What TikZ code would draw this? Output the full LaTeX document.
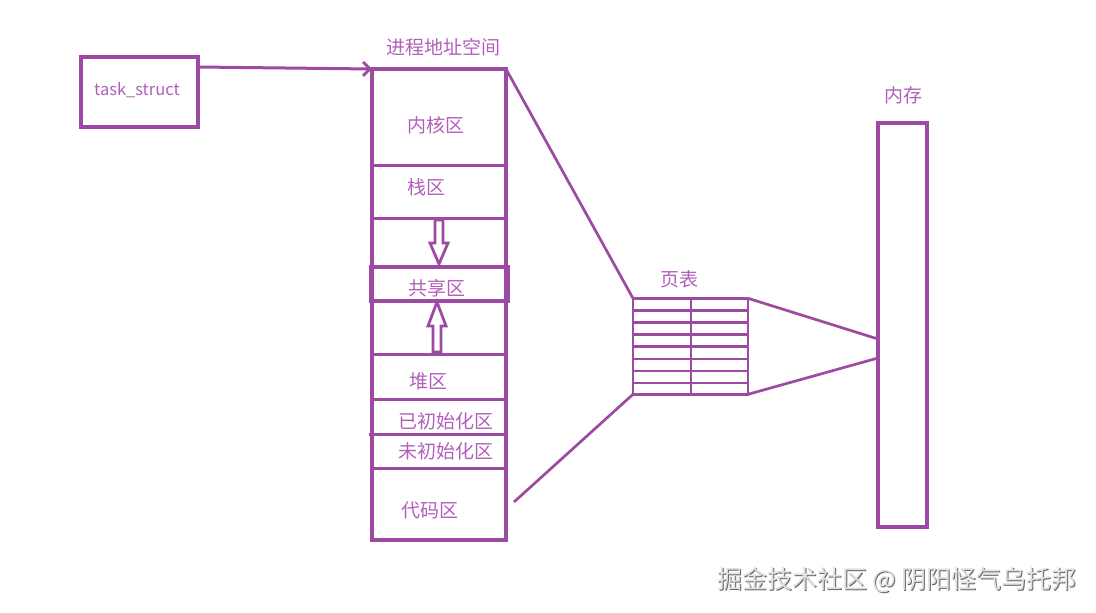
\documentclass[tikz,border=0pt]{standalone}
\usepackage{fontspec}
\setmainfont{Noto Sans CJK SC}
\newfontfamily\cjk{Noto Sans CJK SC}
\usetikzlibrary{arrows.meta,calc}
\definecolor{ln}{RGB}{156,74,162}
\definecolor{tx}{RGB}{176,96,186}
\tikzset{
  box/.style={draw=ln, line width=3.2pt, rectangle, inner sep=0pt, outer sep=0pt},
  lbl/.style={text=tx, font=\cjk\fontsize{19}{19}\selectfont, inner sep=0pt},
  wire/.style={draw=ln, line width=3pt},
  thin wire/.style={draw=ln, line width=2.7pt},
  hollow/.style={draw=ln, line width=2.8pt, fill=white, line join=miter},
}
\begin{document}
\begin{tikzpicture}[x=1pt,y=-1pt]
\useasboundingbox (0,0) rectangle (1096,613);
% task_struct
\node[box, minimum width=117pt, minimum height=70pt] (task) at (139.5,92) {};
\node[lbl, font=\cjk\fontsize{16.5}{16.5}\selectfont] (tasklbl) at (137,90) {task\_struct};
% process address space
\node[box, minimum width=134pt, minimum height=471pt] (proc) at (439,304.5) {};
\node[lbl] (proct) at (443,47) {进程地址空间};
% internal separators
\coordinate (l1a) at (372,165); \coordinate (l1b) at (506,165);
\coordinate (l2a) at (372,218); \coordinate (l2b) at (508,218);
\coordinate (l5a) at (372,354); \coordinate (l5b) at (506,354);
\coordinate (l6a) at (372,399); \coordinate (l6b) at (506,399);
\coordinate (l7a) at (369,434); \coordinate (l7b) at (506,434);
\coordinate (l8a) at (372,468); \coordinate (l8b) at (508,468);
\foreach \a/\b in {l1a/l1b,l2a/l2b,l5a/l5b,l6a/l6b,l7a/l7b,l8a/l8b}
  \draw[wire] (\a) -- (\b);
\node[box, minimum width=137pt, minimum height=34pt] (shared) at (439.5,284) {};
% labels
\node[lbl] (kern) at (436,125) {内核区};
\node[lbl] (stack) at (426,187) {栈区};
\node[lbl] (sharedl) at (437,288) {共享区};
\node[lbl] (heap) at (428,381) {堆区};
\node[lbl] (init) at (446,421) {已初始化区};
\node[lbl] (uninit) at (446,451) {未初始化区};
\node[lbl] (code) at (430,510) {代码区};
% hollow arrows
\draw[hollow] (435,220) -- (443,220) -- (443,243) -- (448,243) -- (439,264) -- (430,243) -- (435,243) -- cycle;
\draw[hollow] (433,352) -- (441,352) -- (441,326) -- (446,326) -- (437,302) -- (428,326) -- (433,326) -- cycle;
% page table
\node[box, line width=2.7pt, minimum width=115pt, minimum height=96pt] (pt) at (690.5,346.3) {};
\foreach \y in {310.3,322.3,334.6,346.7,358.9,371,383}
  \draw[thin wire] (pt.west |- 0,\y) -- (pt.east |- 0,\y);
\draw[thin wire] (pt.north) ++(0.5,0) -- ($(pt.south)+(0.5,0)$);
\node[lbl] (ptl) at (679,279) {页表};
% memory
\node[box, minimum width=49pt, minimum height=404pt] (mem) at (902.5,325) {};
\node[lbl] (meml) at (903,95) {内存};
% connectors
\coordinate (taskout) at ($(task.north east)+(0,10)$);
\draw[wire, -{Straight Barb[length=7pt,width=14pt,line width=2.8pt]}] (taskout) -- (proc.north west);
\draw[thin wire] (proc.north east) -- (pt.north west);
\coordinate (codeout) at (514,502);
\draw[thin wire] (codeout) -- (pt.south west);
\coordinate (mema) at ($(mem.west)+(0,14)$);
\coordinate (memb) at ($(mem.west)+(0,33)$);
\draw[thin wire] (pt.north east) -- (mema);
\draw[thin wire] (pt.south east) -- (memb);
% watermark
\node[text=black!60, font=\cjk\fontsize{25}{25}\selectfont, inner sep=0pt] (wms) at (898,581) {掘金技术社区 @ 阴阳怪气乌托邦};
\node[text=white!88!black, font=\cjk\fontsize{25}{25}\selectfont, inner sep=0pt] (wm) at (897,580) {掘金技术社区 @ 阴阳怪气乌托邦};
\end{tikzpicture}
\end{document}
